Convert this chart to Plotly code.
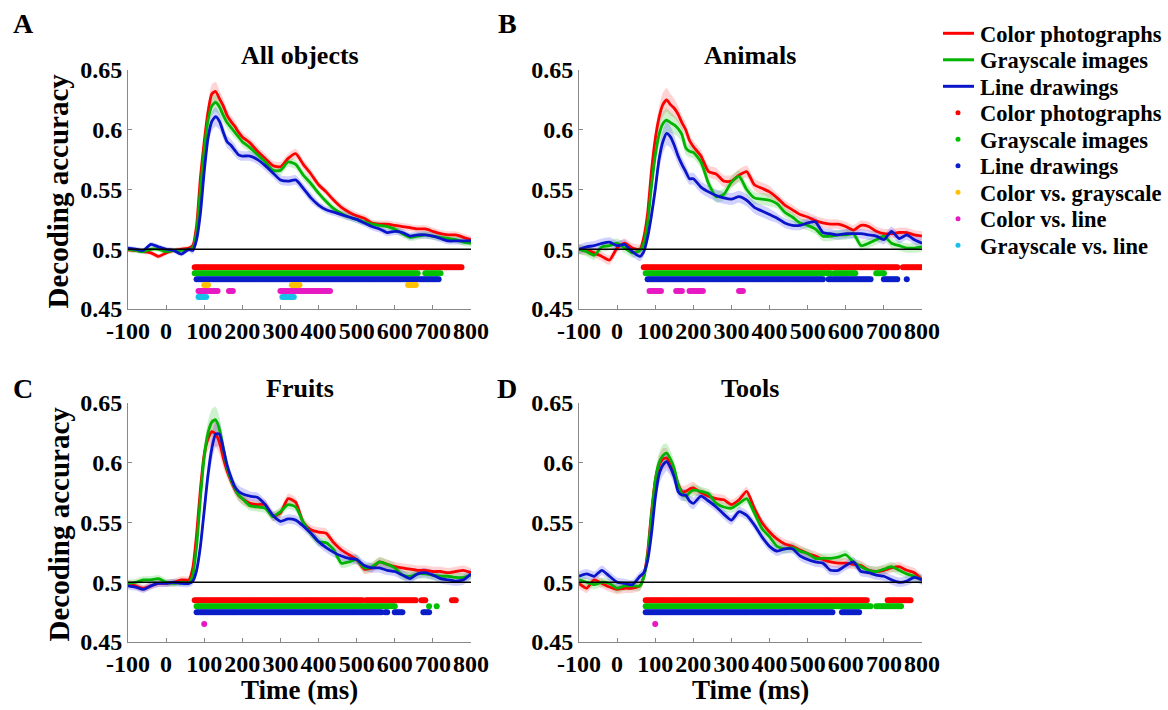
import plotly.graph_objects as go

W, H = 1168, 710
FONT = "Liberation Serif"

# ---------------- data ----------------
time_ms = [-100, -80, -60, -40, -20, 0, 20, 40, 60,
           70, 80, 90, 100, 110, 120, 130, 140, 150, 160, 170, 180, 190, 200,
           220, 240, 260, 280, 300, 320, 340, 360, 380, 400, 420, 440, 460, 480, 500,
           520, 540, 560, 580, 600, 620, 640, 660, 680, 700, 720, 740, 760, 780, 800]

x_ticks = [-100, 0, 100, 200, 300, 400, 500, 600, 700, 800]
x_ticktext = ["-100", "0", "100", "200", "300", "400", "500", "600", "700", "800"]
y_ticks = [0.45, 0.5, 0.55, 0.6, 0.65]
y_ticktext = ["0.45", "0.5", "0.55", "0.6", "0.65"]

conditions = ["Color photographs", "Grayscale images", "Line drawings"]
comparisons = ["Color vs. grayscale", "Color vs. line", "Grayscale vs. line"]
panel_titles = ["All objects", "Animals", "Fruits", "Tools"]
panel_letters = ["A", "B", "C", "D"]

# Panel A: All objects
A_color = [0.4995, 0.499, 0.498, 0.497, 0.494, 0.497, 0.499, 0.500, 0.501,
           0.503, 0.520, 0.560, 0.590, 0.615, 0.630, 0.632, 0.626, 0.620, 0.612, 0.607, 0.603, 0.598, 0.594,
           0.589, 0.582, 0.576, 0.570, 0.569, 0.576, 0.580, 0.571, 0.563, 0.554, 0.548, 0.541, 0.535, 0.531, 0.528,
           0.526, 0.522, 0.521, 0.521, 0.520, 0.519, 0.518, 0.517, 0.517, 0.515, 0.513, 0.512, 0.512, 0.510, 0.508]
A_gray = [0.500, 0.499, 0.498, 0.500, 0.500, 0.498, 0.499, 0.499, 0.500,
          0.501, 0.515, 0.550, 0.583, 0.608, 0.620, 0.623, 0.619, 0.612, 0.606, 0.602, 0.598, 0.594, 0.590,
          0.585, 0.579, 0.573, 0.566, 0.566, 0.573, 0.571, 0.562, 0.555, 0.547, 0.540, 0.534, 0.530, 0.527, 0.525,
          0.523, 0.521, 0.520, 0.519, 0.517, 0.513, 0.510, 0.511, 0.512, 0.511, 0.510, 0.509, 0.508, 0.506, 0.505]
A_line = [0.501, 0.500, 0.499, 0.504, 0.502, 0.500, 0.499, 0.496, 0.500,
          0.499, 0.508, 0.530, 0.565, 0.593, 0.607, 0.611, 0.607, 0.598, 0.590, 0.587, 0.583, 0.579, 0.578,
          0.578, 0.575, 0.570, 0.564, 0.558, 0.557, 0.558, 0.551, 0.543, 0.537, 0.533, 0.531, 0.529, 0.527, 0.525,
          0.522, 0.519, 0.517, 0.514, 0.515, 0.514, 0.511, 0.512, 0.512, 0.511, 0.509, 0.507, 0.507, 0.507, 0.507]
A_sem = [0.002, 0.002, 0.002, 0.002, 0.002, 0.002, 0.002, 0.002, 0.002,
         0.003, 0.004, 0.005, 0.006, 0.007, 0.008, 0.008, 0.007, 0.006, 0.005, 0.005, 0.005, 0.004, 0.004,
         0.004, 0.004, 0.004, 0.004, 0.004, 0.004, 0.004, 0.004, 0.004, 0.003, 0.003, 0.003, 0.003, 0.003, 0.003,
         0.003, 0.003, 0.003, 0.003, 0.003, 0.003, 0.003, 0.003, 0.003, 0.003, 0.003, 0.003, 0.003, 0.003, 0.003]

# Panel B: Animals
B_color = [0.500, 0.499, 0.497, 0.494, 0.491, 0.501, 0.505, 0.501, 0.500,
           0.510, 0.530, 0.565, 0.592, 0.610, 0.621, 0.625, 0.621, 0.618, 0.613, 0.606, 0.600, 0.591, 0.586,
           0.578, 0.565, 0.563, 0.557, 0.557, 0.562, 0.565, 0.554, 0.551, 0.548, 0.543, 0.537, 0.533, 0.529, 0.527,
           0.524, 0.522, 0.521, 0.521, 0.519, 0.516, 0.520, 0.519, 0.515, 0.513, 0.513, 0.514, 0.514, 0.512, 0.511]
B_gray = [0.500, 0.498, 0.495, 0.502, 0.503, 0.505, 0.501, 0.497, 0.499,
          0.505, 0.522, 0.552, 0.578, 0.596, 0.605, 0.608, 0.606, 0.604, 0.601, 0.596, 0.585, 0.582, 0.581,
          0.573, 0.555, 0.544, 0.546, 0.556, 0.561, 0.550, 0.543, 0.542, 0.541, 0.538, 0.531, 0.527, 0.522, 0.520,
          0.517, 0.511, 0.511, 0.512, 0.512, 0.513, 0.503, 0.505, 0.508, 0.511, 0.505, 0.503, 0.501, 0.501, 0.502]
B_line = [0.500, 0.502, 0.503, 0.505, 0.506, 0.503, 0.504, 0.498, 0.494,
          0.498, 0.510, 0.528, 0.550, 0.575, 0.590, 0.597, 0.594, 0.587, 0.578, 0.571, 0.565, 0.559, 0.559,
          0.552, 0.548, 0.545, 0.543, 0.542, 0.544, 0.541, 0.535, 0.532, 0.529, 0.526, 0.522, 0.520, 0.520, 0.522,
          0.523, 0.514, 0.513, 0.512, 0.513, 0.513, 0.513, 0.512, 0.511, 0.508, 0.515, 0.509, 0.512, 0.508, 0.505]
B_sem = [0.004, 0.004, 0.004, 0.004, 0.004, 0.004, 0.004, 0.004, 0.004,
         0.004, 0.005, 0.006, 0.008, 0.009, 0.010, 0.010, 0.009, 0.008, 0.007, 0.006, 0.006, 0.005, 0.005,
         0.005, 0.005, 0.005, 0.005, 0.005, 0.005, 0.005, 0.005, 0.005, 0.005, 0.004, 0.004, 0.004, 0.004, 0.004,
         0.004, 0.004, 0.004, 0.004, 0.004, 0.004, 0.004, 0.004, 0.004, 0.004, 0.004, 0.004, 0.004, 0.004, 0.004]

# Panel C: Fruits
C_color = [0.499, 0.497, 0.495, 0.497, 0.499, 0.499, 0.500, 0.502, 0.502,
           0.512, 0.540, 0.578, 0.607, 0.620, 0.626, 0.624, 0.617, 0.604, 0.593, 0.585, 0.578, 0.573, 0.570,
           0.566, 0.565, 0.565, 0.555, 0.558, 0.570, 0.567, 0.550, 0.544, 0.542, 0.541, 0.533, 0.527, 0.523, 0.519,
           0.511, 0.512, 0.517, 0.515, 0.513, 0.512, 0.511, 0.510, 0.510, 0.509, 0.509, 0.508, 0.509, 0.510, 0.508]
C_gray = [0.499, 0.500, 0.502, 0.502, 0.503, 0.500, 0.499, 0.500, 0.500,
          0.506, 0.530, 0.570, 0.605, 0.625, 0.634, 0.636, 0.628, 0.612, 0.596, 0.586, 0.579, 0.573, 0.570,
          0.564, 0.563, 0.562, 0.555, 0.559, 0.565, 0.563, 0.550, 0.541, 0.534, 0.533, 0.527, 0.516, 0.517, 0.519,
          0.512, 0.513, 0.517, 0.515, 0.512, 0.506, 0.505, 0.507, 0.507, 0.506, 0.505, 0.505, 0.504, 0.504, 0.506]
C_line = [0.497, 0.496, 0.494, 0.497, 0.499, 0.499, 0.500, 0.499, 0.499,
          0.501, 0.510, 0.530, 0.560, 0.590, 0.612, 0.624, 0.624, 0.612, 0.598, 0.588, 0.580, 0.576, 0.574,
          0.572, 0.571, 0.565, 0.556, 0.551, 0.553, 0.552, 0.547, 0.541, 0.534, 0.529, 0.525, 0.522, 0.520, 0.519,
          0.514, 0.512, 0.512, 0.510, 0.509, 0.506, 0.503, 0.507, 0.508, 0.506, 0.503, 0.502, 0.501, 0.502, 0.507]
C_sem = [0.003, 0.003, 0.003, 0.003, 0.003, 0.003, 0.003, 0.003, 0.003,
         0.003, 0.005, 0.007, 0.009, 0.010, 0.011, 0.011, 0.010, 0.008, 0.006, 0.005, 0.005, 0.005, 0.005,
         0.004, 0.004, 0.004, 0.004, 0.004, 0.004, 0.004, 0.004, 0.004, 0.004, 0.004, 0.004, 0.004, 0.004, 0.004,
         0.004, 0.004, 0.004, 0.004, 0.004, 0.004, 0.004, 0.004, 0.004, 0.004, 0.004, 0.004, 0.004, 0.004, 0.004]

# Panel D: Tools
D_color = [0.499, 0.495, 0.502, 0.499, 0.496, 0.494, 0.495, 0.495, 0.497,
           0.505, 0.525, 0.558, 0.585, 0.598, 0.603, 0.604, 0.598, 0.591, 0.582, 0.576, 0.576, 0.578, 0.579,
           0.575, 0.572, 0.570, 0.569, 0.565, 0.569, 0.576, 0.562, 0.550, 0.542, 0.536, 0.532, 0.530, 0.527, 0.524,
           0.522, 0.519, 0.517, 0.516, 0.516, 0.515, 0.514, 0.510, 0.509, 0.510, 0.512, 0.513, 0.510, 0.508, 0.502]
D_gray = [0.502, 0.500, 0.498, 0.500, 0.499, 0.495, 0.497, 0.497, 0.497,
          0.504, 0.522, 0.555, 0.585, 0.600, 0.606, 0.608, 0.603, 0.595, 0.582, 0.574, 0.572, 0.575, 0.577,
          0.576, 0.574, 0.566, 0.563, 0.562, 0.566, 0.570, 0.558, 0.545, 0.538, 0.530, 0.528, 0.529, 0.526, 0.524,
          0.520, 0.520, 0.520, 0.521, 0.523, 0.517, 0.513, 0.510, 0.509, 0.511, 0.513, 0.510, 0.507, 0.505, 0.502]
D_line = [0.505, 0.507, 0.505, 0.510, 0.505, 0.500, 0.499, 0.498, 0.505,
          0.508, 0.518, 0.540, 0.570, 0.590, 0.598, 0.601, 0.596, 0.588, 0.576, 0.573, 0.573, 0.568, 0.566,
          0.572, 0.568, 0.563, 0.557, 0.552, 0.559, 0.556, 0.548, 0.538, 0.530, 0.526, 0.528, 0.528, 0.522, 0.519,
          0.517, 0.516, 0.510, 0.510, 0.514, 0.517, 0.509, 0.508, 0.506, 0.505, 0.502, 0.500, 0.501, 0.504, 0.502]
D_sem = [0.004, 0.004, 0.004, 0.004, 0.004, 0.004, 0.004, 0.004, 0.004,
         0.004, 0.005, 0.006, 0.007, 0.008, 0.009, 0.008, 0.007, 0.006, 0.005, 0.005, 0.005, 0.005, 0.005,
         0.004, 0.004, 0.004, 0.004, 0.004, 0.004, 0.004, 0.004, 0.004, 0.004, 0.004, 0.004, 0.004, 0.004, 0.004,
         0.004, 0.004, 0.004, 0.004, 0.004, 0.004, 0.004, 0.004, 0.004, 0.004, 0.004, 0.004, 0.004, 0.004, 0.004]

# significant time windows [start, end] in ms
A_sig_color = [[75, 775]]
A_sig_gray = [[75, 640], [645, 660], [680, 720]]
A_sig_line = [[80, 715]]
A_sig_color_vs_gray = [[100, 110], [330, 350], [635, 655]]
A_sig_color_vs_line = [[85, 135], [165, 175], [300, 365], [370, 430]]
A_sig_gray_vs_line = [[85, 105], [305, 335]]

B_sig_color = [[70, 735], [750, 800]]
B_sig_gray = [[75, 560], [570, 625], [680, 700]]
B_sig_line = [[80, 540], [555, 590], [595, 665], [700, 735], [760, 760]]
B_sig_color_vs_gray = []
B_sig_color_vs_line = [[85, 115], [155, 170], [190, 225], [320, 330]]
B_sig_gray_vs_line = []

C_sig_color = [[75, 515], [525, 655], [670, 680], [750, 760]]
C_sig_gray = [[80, 600], [690, 690], [710, 710]]
C_sig_line = [[80, 565], [575, 580], [600, 620], [675, 690]]
C_sig_color_vs_gray = []
C_sig_color_vs_line = [[100, 100]]
C_sig_gray_vs_line = []

D_sig_color = [[75, 655], [710, 770]]
D_sig_gray = [[75, 665], [680, 745]]
D_sig_line = [[75, 565], [590, 635]]
D_sig_color_vs_gray = []
D_sig_color_vs_line = [[100, 100]]
D_sig_gray_vs_line = []

sig_levels = [0.485, 0.48, 0.475, 0.47, 0.465, 0.46]

# ---------------- styling ----------------
line_colors = ["#ff0000", "#00b400", "#0a14c8"]
band_colors = ["rgba(255,80,80,0.25)", "rgba(60,200,60,0.25)", "rgba(70,70,255,0.25)"]
dot_colors = ["#ff0000", "#00c000", "#0a1ec8", "#ffc000", "#e619c3", "#16c0ea"]

panels = [
    (A_color, A_gray, A_line, A_sem,
     [A_sig_color, A_sig_gray, A_sig_line, A_sig_color_vs_gray, A_sig_color_vs_line, A_sig_gray_vs_line]),
    (B_color, B_gray, B_line, B_sem,
     [B_sig_color, B_sig_gray, B_sig_line, B_sig_color_vs_gray, B_sig_color_vs_line, B_sig_gray_vs_line]),
    (C_color, C_gray, C_line, C_sem,
     [C_sig_color, C_sig_gray, C_sig_line, C_sig_color_vs_gray, C_sig_color_vs_line, C_sig_gray_vs_line]),
    (D_color, D_gray, D_line, D_sem,
     [D_sig_color, D_sig_gray, D_sig_line, D_sig_color_vs_gray, D_sig_color_vs_line, D_sig_gray_vs_line]),
]

# plot-area pixel boxes: (left, right, top, bottom)
boxes = [(128, 471, 70, 309), (579, 922, 70, 309), (128, 471, 403, 642), (579, 922, 403, 642)]


def px_x(p):
    return p / W


def px_y(p):
    return 1 - p / H


fig = go.Figure()
dot_names = conditions + comparisons

for i, (c, g, l, sem, sigs) in enumerate(panels):
    sfx = "" if i == 0 else str(i + 1)
    xa, ya = "x" + sfx, "y" + sfx
    for k, series in enumerate([c, g, l]):
        upper = [v + s for v, s in zip(series, sem)]
        lower = [v - s for v, s in zip(series, sem)]
        fig.add_trace(go.Scatter(x=time_ms, y=upper, mode="lines", line=dict(width=0, shape="spline", smoothing=0.6),
                                 showlegend=False, hoverinfo="skip", xaxis=xa, yaxis=ya))
        fig.add_trace(go.Scatter(x=time_ms, y=lower, mode="lines", line=dict(width=0, shape="spline", smoothing=0.6),
                                 fill="tonexty", fillcolor=band_colors[k],
                                 showlegend=False, hoverinfo="skip", xaxis=xa, yaxis=ya))
    for k, series in enumerate([c, g, l]):
        fig.add_trace(go.Scatter(x=time_ms, y=series, mode="lines", name=conditions[k],
                                 line=dict(color=line_colors[k], width=2.8, shape="spline", smoothing=0.6),
                                 showlegend=False, xaxis=xa, yaxis=ya))
    for k, windows in enumerate(sigs):
        xs = []
        for a, b in windows:
            xs.extend(range(a, b + 1, 5))
        if not xs:
            continue
        fig.add_trace(go.Scatter(x=xs, y=[sig_levels[k]] * len(xs), mode="markers", name=dot_names[k],
                                 marker=dict(color=dot_colors[k], size=6, line=dict(width=0)),
                                 showlegend=False, xaxis=xa, yaxis=ya))

tickfont = dict(family=FONT, size=24, color="black", weight="bold")
layout = dict(
    width=W, height=H, template="none", plot_bgcolor="white", paper_bgcolor="white",
    margin=dict(l=0, r=0, t=0, b=0),
    font=dict(family=FONT, color="black"),
    showlegend=False,
    shapes=[], annotations=[],
)

for i, (l, r, t, b) in enumerate(boxes):
    sfx = "" if i == 0 else str(i + 1)
    layout["xaxis" + sfx] = dict(domain=[px_x(l), px_x(r)], anchor="y" + sfx, range=[-100, 800],
                                 tickvals=x_ticks, ticktext=x_ticktext, ticks="inside", ticklen=4,
                                 tickcolor="#888", showline=True, linecolor="#888", linewidth=1,
                                 showgrid=False, zeroline=False, tickfont=tickfont, automargin=False)
    layout["yaxis" + sfx] = dict(domain=[px_y(b), px_y(t)], anchor="x" + sfx, range=[0.45, 0.65],
                                 tickvals=y_ticks, ticktext=y_ticktext, ticks="inside", ticklen=4,
                                 tickcolor="#888", showline=True, linecolor="#888", linewidth=1,
                                 showgrid=False, zeroline=False, tickfont=tickfont, automargin=False)
    layout["shapes"].append(dict(type="line", xref="x" + sfx, yref="y" + sfx, x0=-100, x1=800, y0=0.5, y1=0.5,
                                 line=dict(color="black", width=1.5)))
    ty = 55 if i < 2 else 388
    layout["annotations"].append(dict(text=panel_titles[i], x=px_x((l + r) / 2), y=px_y(ty), xref="paper",
                                      yref="paper", showarrow=False, xanchor="center", yanchor="middle",
                                      font=dict(family=FONT, size=26, color="black", weight="bold")))
    lx = 23 if i in (0, 2) else 507
    ly = 24 if i < 2 else 388
    layout["annotations"].append(dict(text=panel_letters[i], x=px_x(lx), y=px_y(ly), xref="paper", yref="paper",
                                      showarrow=False, xanchor="center", yanchor="middle",
                                      font=dict(family=FONT, size=28, color="black", weight="bold")))
    if i in (0, 2):
        layout["annotations"].append(dict(text="Decoding accuracy", x=px_x(58), y=px_y((t + b) / 2 + 2),
                                          xref="paper", yref="paper", showarrow=False, textangle=-90,
                                          xanchor="center", yanchor="middle",
                                          font=dict(family=FONT, size=29, color="black", weight="bold")))
    if i in (2, 3):
        layout["annotations"].append(dict(text="Time (ms)", x=px_x((l + r) / 2), y=px_y(690),
                                          xref="paper", yref="paper", showarrow=False,
                                          xanchor="center", yanchor="middle",
                                          font=dict(family=FONT, size=27, color="black", weight="bold")))

# ---------------- legend (drawn manually for exact spacing) ----------------
legend_labels = conditions + dot_names
legend_top, legend_step = 33.3, 26.5
for j, label in enumerate(legend_labels):
    yc = legend_top + j * legend_step
    layout["annotations"].append(dict(text=label, x=px_x(978), y=px_y(yc + 1), xref="paper", yref="paper",
                                      showarrow=False, xanchor="left", yanchor="middle",
                                      font=dict(family=FONT, size=22.5, color="black", weight="bold")))
    if j < 3:
        layout["shapes"].append(dict(type="line", xref="paper", yref="paper", x0=px_x(943), x1=px_x(974),
                                     y0=px_y(yc), y1=px_y(yc), line=dict(color=line_colors[j], width=3)))
    else:
        layout["shapes"].append(dict(type="circle", xref="paper", yref="paper",
                                     x0=px_x(955.5), x1=px_x(960.5), y0=px_y(yc - 2.5), y1=px_y(yc + 2.5),
                                     fillcolor=dot_colors[j - 3], line=dict(width=0)))

fig.update_layout(**layout)
fig.write_html("out.html")
